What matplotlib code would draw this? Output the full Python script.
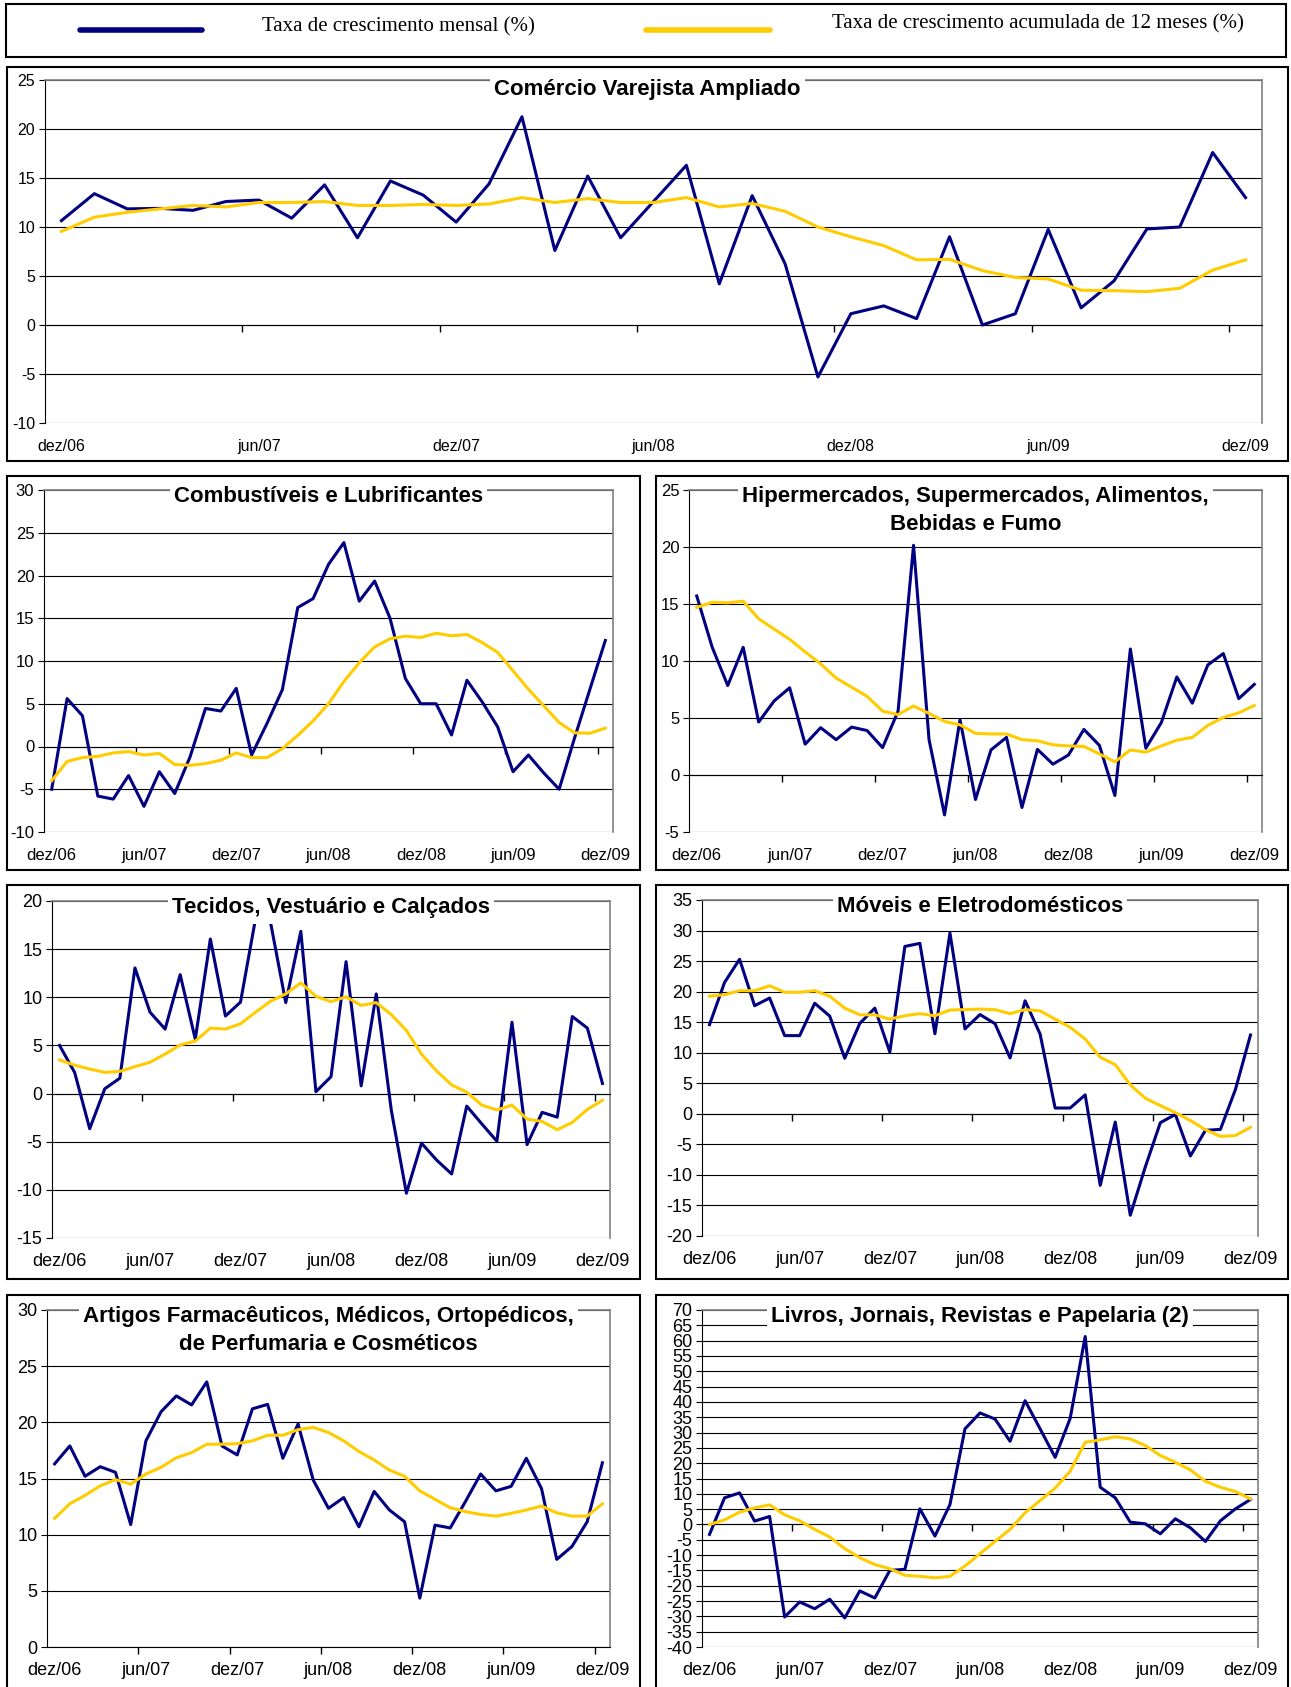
import numpy as np
import matplotlib
matplotlib.use('Agg')
import matplotlib.pyplot as plt
from matplotlib.patches import Rectangle
from matplotlib.lines import Line2D
from matplotlib.transforms import IdentityTransform

plt.rcParams['font.family'] = ['Liberation Sans', 'DejaVu Sans']
plt.rcParams['axes.unicode_minus'] = False

W, H = 1291, 1687
AZUL = '#000080'
AMARELO = '#FFCC00'

meses = np.arange(37)  # dez/06 ... dez/09
rotulos_x = ['dez/06', 'jun/07', 'dez/07', 'jun/08', 'dez/08', 'jun/09', 'dez/09']

# Comércio Varejista Ampliado
varejo_mensal = [10.65, 13.4, 11.85, 11.9, 11.7, 12.6, 12.75, 10.9, 14.3, 8.9, 14.7, 13.25,
                 10.5, 14.4, 21.25, 7.6, 15.2, 8.9, 12.6, 16.3, 4.2, 13.2, 6.25, -5.3,
                 1.15, 1.95, 0.65, 9.0, 0.0, 1.15, 9.75, 1.75, 4.5, 9.8, 10.0, 17.6, 13.0]
varejo_12m = [9.55, 11.0, 11.5, 11.85, 12.2, 12.05, 12.5, 12.5, 12.6, 12.2, 12.2, 12.3,
              12.2, 12.35, 13.0, 12.5, 12.9, 12.5, 12.5, 13.0, 12.05, 12.4, 11.6, 10.0,
              9.0, 8.1, 6.65, 6.7, 5.55, 4.85, 4.7, 3.55, 3.5, 3.4, 3.75, 5.6, 6.65]

# Combustíveis e Lubrificantes
comb_mensal = [-5.0, 5.6, 3.6, -5.8, -6.15, -3.4, -7.0, -2.95, -5.5, -1.2, 4.45, 4.15,
               6.8, -1.0, 2.7, 6.65, 16.25, 17.3, 21.3, 23.85, 17.0, 19.35, 15.0, 7.95,
               5.0, 5.0, 1.35, 7.75, 5.2, 2.3, -2.95, -1.0, -3.1, -5.0, 1.0, 6.7, 12.4]
comb_12m = [-4.0, -1.75, -1.3, -1.15, -0.75, -0.6, -1.0, -0.8, -2.1, -2.2, -2.0, -1.6,
            -0.75, -1.3, -1.3, -0.25, 1.3, 3.0, 5.0, 7.6, 9.8, 11.65, 12.6, 12.9,
            12.75, 13.25, 12.95, 13.1, 12.15, 11.0, 8.85, 6.7, 4.75, 2.8, 1.6, 1.55, 2.15]

# Hipermercados, Supermercados, Alimentos, Bebidas e Fumo
hiper_mensal = [15.7, 11.2, 7.85, 11.2, 4.65, 6.5, 7.65, 2.7, 4.15, 3.1, 4.2, 3.9,
                2.4, 5.6, 20.15, 3.1, -3.5, 4.85, -2.15, 2.2, 3.3, -2.85, 2.25, 0.95,
                1.75, 4.0, 2.6, -1.8, 11.05, 2.35, 4.6, 8.6, 6.3, 9.65, 10.65, 6.7, 7.95]
hiper_12m = [14.7, 15.15, 15.1, 15.25, 13.7, 12.8, 11.9, 10.8, 9.75, 8.5, 7.7, 6.9,
             5.6, 5.3, 6.05, 5.4, 4.7, 4.4, 3.65, 3.6, 3.6, 3.1, 3.0, 2.65,
             2.55, 2.5, 1.85, 1.15, 2.2, 2.0, 2.55, 3.05, 3.3, 4.35, 5.05, 5.45, 6.1]

# Tecidos, Vestuário e Calçados
tecidos_mensal = [5.0, 2.2, -3.65, 0.5, 1.6, 13.05, 8.45, 6.7, 12.35, 5.65, 16.05, 8.05,
                  9.5, 18.2, 17.7, 9.45, 16.85, 0.2, 1.75, 13.7, 0.8, 10.35, -1.75, -10.35,
                  -5.15, -6.9, -8.35, -1.3, -3.15, -4.95, 7.4, -5.3, -1.95, -2.45, 8.0, 6.8, 1.05]
tecidos_12m = [3.5, 2.95, 2.55, 2.2, 2.3, 2.8, 3.25, 4.1, 5.05, 5.45, 6.8, 6.7,
               7.25, 8.45, 9.6, 10.35, 11.5, 10.1, 9.55, 10.05, 9.15, 9.45, 8.2, 6.55,
               4.1, 2.35, 0.9, 0.15, -1.2, -1.7, -1.2, -2.65, -2.9, -3.75, -3.0, -1.65, -0.7]

# Móveis e Eletrodomésticos
moveis_mensal = [14.6, 21.5, 25.3, 17.7, 18.95, 12.8, 12.8, 18.1, 16.0, 9.1, 14.8, 17.3,
                 10.1, 27.4, 27.9, 13.1, 29.6, 13.9, 16.25, 14.75, 9.15, 18.5, 13.05, 0.95,
                 0.95, 3.1, -11.7, -1.35, -16.6, -8.7, -1.45, -0.1, -6.9, -2.7, -2.55, 4.0, 12.9]
moveis_12m = [19.25, 19.5, 20.15, 20.15, 20.95, 19.9, 19.9, 20.15, 19.25, 17.3, 16.2, 16.2,
              15.5, 16.05, 16.4, 16.05, 17.0, 17.05, 17.15, 17.05, 16.4, 17.05, 16.85, 15.5,
              14.15, 12.25, 9.25, 8.05, 4.75, 2.55, 1.35, 0.2, -1.1, -2.6, -3.7, -3.55, -2.2]

# Artigos Farmacêuticos, Médicos, Ortopédicos, de Perfumaria e Cosméticos
farma_mensal = [16.3, 17.9, 15.2, 16.05, 15.55, 10.9, 18.35, 20.95, 22.35, 21.55, 23.6, 17.9,
                17.1, 21.2, 21.6, 16.8, 19.85, 14.85, 12.35, 13.3, 10.7, 13.85, 12.2, 11.15,
                4.35, 10.85, 10.6, 12.95, 15.4, 13.9, 14.3, 16.8, 14.1, 7.8, 8.95, 11.15, 16.4]
farma_12m = [11.45, 12.75, 13.5, 14.35, 14.9, 14.5, 15.4, 16.0, 16.85, 17.3, 18.05, 18.05,
             18.1, 18.35, 18.85, 18.85, 19.35, 19.55, 19.1, 18.35, 17.4, 16.65, 15.75, 15.2,
             13.9, 13.15, 12.4, 12.05, 11.8, 11.65, 11.9, 12.2, 12.55, 11.95, 11.65, 11.65, 12.75]

# Livros, Jornais, Revistas e Papelaria
livros_mensal = [-3.25, 8.7, 10.3, 1.1, 2.6, -30.2, -25.3, -27.5, -24.4, -30.5, -21.7, -24.0,
                 -15.0, -14.65, 5.1, -3.8, 6.5, 31.2, 36.4, 34.4, 27.15, 40.4, 31.2, 21.9,
                 34.6, 61.35, 12.15, 8.7, 0.75, 0.2, -3.05, 1.85, -1.1, -5.55, 1.2, 5.1, 8.15]
livros_12m = [0.0, 1.5, 4.0, 5.4, 6.4, 3.15, 1.2, -1.6, -4.1, -7.9, -10.85, -13.1,
              -14.45, -16.6, -16.95, -17.4, -16.95, -13.55, -9.55, -5.55, -1.6, 3.8, 7.8, 11.85,
              17.35, 26.8, 27.6, 28.65, 27.9, 25.75, 22.5, 20.3, 17.8, 14.1, 12.15, 10.75, 8.35]

fig = plt.figure(figsize=(W / 100, H / 100), dpi=100)
renderer = fig.canvas.get_renderer()


def caixa(l, t, r, b, lw=1.5):
    fig.add_artist(Rectangle((l / W, 1 - b / H), (r - l) / W, (b - t) / H,
                             transform=fig.transFigure, fill=False,
                             edgecolor='black', lw=lw))


def painel(rect, mensal, acum, titulo, ymin, ymax, passo, fs=12, tx=0.5, dy=3):
    l, t, r, b = rect
    ax = fig.add_axes([l / W, 1 - b / H, (r - l) / W, (b - t) / H])
    ax.plot(meses, mensal, color=AZUL, lw=2.2, zorder=3)
    ax.plot(meses, acum, color=AMARELO, lw=2.2, zorder=4)
    ax.set_xlim(-0.5, 36.5)
    ax.set_ylim(ymin, ymax)
    ax.set_yticks(np.arange(ymin, ymax + passo / 2, passo))
    ax.yaxis.grid(True, color='black', lw=0.8)
    ax.set_axisbelow(True)
    for s in ('top', 'right'):
        ax.spines[s].set_color('#808080')
        ax.spines[s].set_linewidth(1.2)
    ax.spines['left'].set_color('black')
    ax.spines['bottom'].set_position(('data', 0))
    ax.spines['bottom'].set_color('black')
    ax.set_xticks(np.arange(5.5, 36, 6))
    ax.set_xticklabels([])
    ax.tick_params(axis='x', length=5, width=1, direction='out')
    ax.tick_params(axis='y', length=4, width=0.8, labelsize=fs, pad=3)
    for k, lab in enumerate(rotulos_x):
        ax.annotate(lab, xy=(6 * k, 0), xycoords=('data', 'axes fraction'),
                    xytext=(0, -17), textcoords='offset points',
                    ha='center', va='center', fontsize=fs)
    tt = ax.annotate(titulo, xy=(tx, 1), xycoords='axes fraction',
                     xytext=(0, dy), textcoords='offset points',
                     ha='center', va='top', fontsize=16, fontweight='bold',
                     linespacing=1.42, zorder=11, annotation_clip=False)
    # fundo branco do título (cobre grade e linhas, como no Excel)
    bb = tt.get_window_extent(renderer)
    fundo = Rectangle((bb.x0 - 4, bb.y0 - 6), bb.width + 8, bb.height + 12,
                      facecolor='white', edgecolor='none', zorder=10, clip_on=False)
    fundo.set_transform(IdentityTransform())
    ax.add_artist(fundo)
    return ax


# legenda
caixa(6, 4, 1286, 57)
fig.add_artist(Line2D([80 / W, 202 / W], [1 - 30 / H, 1 - 30 / H], color=AZUL,
                      lw=4, solid_capstyle='round'))
fig.add_artist(Line2D([646 / W, 770 / W], [1 - 30 / H, 1 - 30 / H], color=AMARELO,
                      lw=4, solid_capstyle='round'))
fig.text(262 / W, 1 - 27 / H, 'Taxa de crescimento mensal (%)', ha='left', va='center',
         fontsize=15, family='Liberation Serif')
fig.text(832 / W, 1 - 24 / H, 'Taxa de crescimento acumulada de 12 meses (%)',
         ha='left', va='center', fontsize=15, family='Liberation Serif')

# caixas dos gráficos
caixa(7, 67, 1288, 461)
caixa(7, 476, 640, 870)
caixa(656, 476, 1288, 870)
caixa(7, 885, 640, 1279)
caixa(656, 885, 1288, 1279)
caixa(7, 1295, 640, 1700)
caixa(656, 1295, 1288, 1700)

painel((45, 80, 1262, 423), varejo_mensal, varejo_12m,
       'Comércio Varejista Ampliado', -10, 25, 5, fs=11.5, tx=0.495, dy=0.5)
painel((44, 490, 613, 832), comb_mensal, comb_12m,
       'Combustíveis e Lubrificantes', -10, 30, 5, fs=12)
painel((689, 490, 1262, 832), hiper_mensal, hiper_12m,
       'Hipermercados, Supermercados, Alimentos,\nBebidas e Fumo', -5, 25, 5, fs=12)
painel((52, 901, 610, 1238), tecidos_mensal, tecidos_12m,
       'Tecidos, Vestuário e Calçados', -15, 20, 5, fs=13)
painel((702, 900, 1258, 1236), moveis_mensal, moveis_12m,
       'Móveis e Eletrodomésticos', -20, 35, 5, fs=13)
painel((47, 1310, 610, 1647), farma_mensal, farma_12m,
       'Artigos Farmacêuticos, Médicos, Ortopédicos,\nde Perfumaria e Cosméticos',
       0, 30, 5, fs=13)
painel((702, 1310, 1258, 1647), livros_mensal, livros_12m,
       'Livros, Jornais, Revistas e Papelaria (2)', -40, 70, 5, fs=13)

fig.savefig('out.png', dpi=100)
